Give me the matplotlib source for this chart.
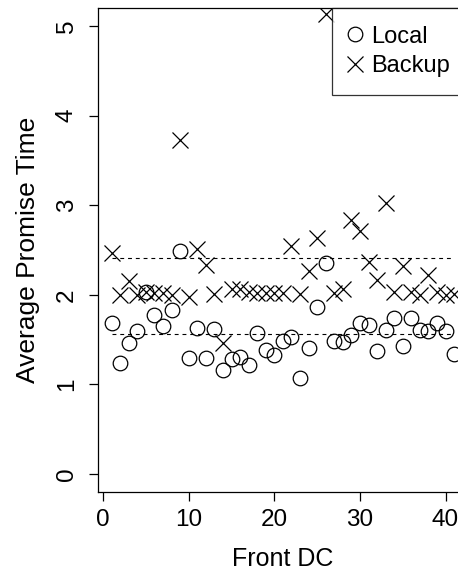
import matplotlib
matplotlib.use('Agg')
import matplotlib.pyplot as plt
import numpy as np

plt.rcParams['font.family'] = ['Liberation Sans', 'DejaVu Sans']

# average promise time per front DC
front_dc = np.arange(1, 42)
local = [1.69, 1.24, 1.46, 1.60, 2.03, 1.77, 1.65, 1.83, 2.49, 1.29,
         1.63, 1.30, 1.62, 1.16, 1.28, 1.31, 1.22, 1.57, 1.38, 1.33,
         1.49, 1.53, 1.07, 1.41, 1.86, 2.35, 1.49, 1.47, 1.55, 1.69,
         1.66, 1.37, 1.61, 1.74, 1.43, 1.74, 1.61, 1.60, 1.69, 1.60,
         1.34]
backup = [2.47, 2.00, 2.15, 2.00, 2.03, 2.02, 2.02, 2.00, 3.73, 1.98,
          2.51, 2.33, 2.01, 1.46, 2.06, 2.07, 2.03, 2.02, 2.02, 2.02,
          2.02, 2.55, 2.01, 2.27, 2.63, 5.13, 2.02, 2.07, 2.83, 2.71,
          2.37, 2.17, 3.02, 2.03, 2.32, 2.03, 2.00, 2.22, 2.03, 2.00,
          2.01]
local_avg = 1.567
backup_avg = 2.414

fig = plt.figure(figsize=(4.58, 5.71), dpi=100)
ax = fig.add_axes([98 / 458, 79 / 571, 369.8 / 458, 484 / 571])

ax.plot(front_dc, local, 'o', mfc='none', mec='black', ms=10.5, mew=0.9,
        label='Local')
ax.plot(front_dc, backup, 'x', color='black', ms=11.5, mew=0.9,
        label='Backup')

ax.plot([front_dc[0], front_dc[-1]], [backup_avg, backup_avg], color='black',
        lw=0.8, ls=(0, (3.5, 3.5)))
ax.plot([front_dc[0], front_dc[-1]], [local_avg, local_avg], color='black',
        lw=0.8, ls=(0, (3.5, 3.5)))

ax.set_xlim(1 - 0.04 * 40, 41 + 0.04 * 40)
ax.set_ylim(-0.2, 5.2)
ax.set_xticks([0, 10, 20, 30, 40])
ax.set_yticks([0, 1, 2, 3, 4, 5])
for s in ax.spines.values():
    s.set_linewidth(0.9)
ax.tick_params(length=6.5, width=0.9, labelsize=17.5, pad=6)
ax.tick_params(axis='y', pad=8)
for lbl in ax.get_yticklabels():
    lbl.set_rotation(90)
    lbl.set_va('center')

ax.set_xlabel('Front DC', fontsize=18)
ax.set_ylabel('Average Promise Time', fontsize=19)
ax.xaxis.set_label_coords(0.5, -0.113)
ax.yaxis.set_label_coords(-0.158, 0.5)

leg = ax.legend(loc='upper right', borderaxespad=0, fancybox=False,
                edgecolor='black', fontsize=17, handlelength=0.45,
                handletextpad=0.45, labelspacing=0.3, borderpad=0.75)
leg.get_frame().set_linewidth(0.9)

fig.savefig('out.png', dpi=100)
